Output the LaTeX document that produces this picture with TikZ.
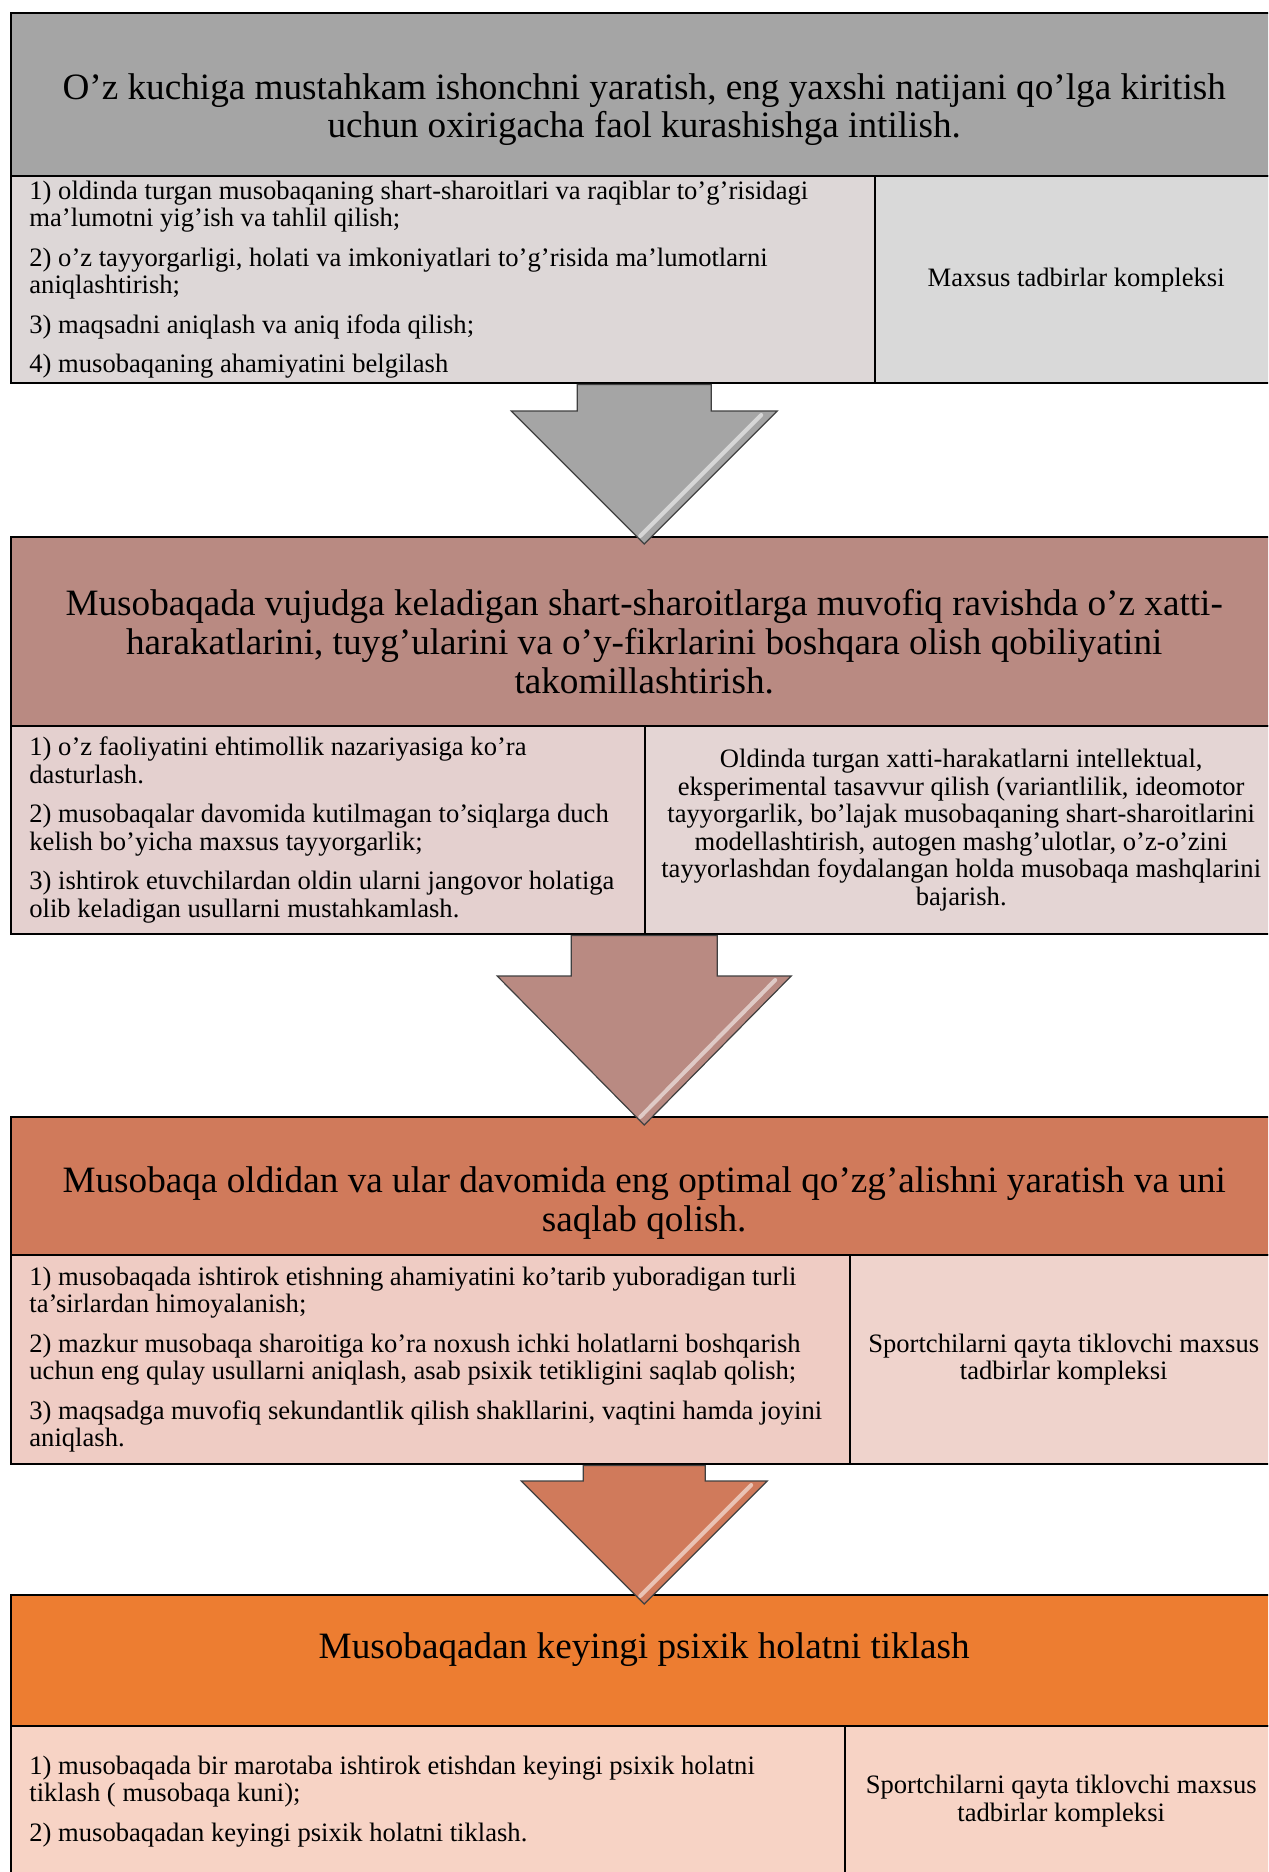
\documentclass[tikz,border=0pt]{standalone}
\usepackage{fontspec}
\setmainfont{Liberation Serif}
\usepackage{xcolor}
\usetikzlibrary{calc}

\definecolor{grayhd}{HTML}{A5A5A5}
\definecolor{graylt}{HTML}{DDD7D7}
\definecolor{grayrt}{HTML}{D9D9D9}
\definecolor{rosehd}{HTML}{B98A82}
\definecolor{roselt}{HTML}{E4D0CF}
\definecolor{rosert}{HTML}{E4D5D4}
\definecolor{terrahd}{HTML}{D07A5B}
\definecolor{terralt}{HTML}{EFCCC4}
\definecolor{terrart}{HTML}{EFD3CC}
\definecolor{orangehd}{HTML}{ED7D31}
\definecolor{orangelt}{HTML}{F7D3C5}

\tikzstyle{headbox} = [draw=black, line width=1.2pt, rectangle, anchor=north west,
minimum width=633pt, inner sep=0pt]
\tikzstyle{cellbox} = [draw=black, line width=1.2pt, rectangle, anchor=north west, inner sep=0pt]
\tikzstyle{headtext} = [font=\fontsize{18.6}{19.3}\selectfont, align=center, inner sep=0pt]
\tikzstyle{itemtext} = [font=\fontsize{13.3}{13.75}\selectfont, align=left, anchor=west, inner sep=0pt]
\tikzstyle{sidetext} = [font=\fontsize{13.3}{13.75}\selectfont, align=center, inner sep=0pt]
\tikzstyle{arrowbody} = [draw=black!75, line width=0.6pt, line join=miter]

% block arrow: style, start, tip, shaft half width, head half width, head length
\newcommand{\bigarrow}[6]{%
\draw [arrowbody, #1] ($(#2)+(-#4,0)$) -- ($(#3)+(-#4,-#6)$) -- ($(#3)+(-#5,-#6)$) -- (#3)
    -- ($(#3)+(#5,-#6)$) -- ($(#3)+(#4,-#6)$) -- ($(#2)+(#4,0)$) -- cycle;
\draw [white, opacity=.55, line width=2pt, line cap=round]
    ($(#3)+(#5-16,-#6+4)$) -- ($(#3)+(-4,-8)$);
}

\begin{document}
\begin{tikzpicture}[x=0.5pt, y=-0.5pt]
    \useasboundingbox (0,0) rectangle (1268,1872);
    \clip (0,0) rectangle (1268,1872);
    \fill[white] (0,0) rectangle (1268,1872);

    % first block
    \node[headbox, fill=grayhd, minimum height=81.5pt] (hdrA) at (10,12) {};
    \node[cellbox, fill=graylt, minimum width=432pt, minimum height=103.5pt] (cellAL) at (10,175) {};
    \node[cellbox, fill=grayrt, minimum width=201pt, minimum height=103.5pt] (cellAR) at (874,175) {};
    \node[headtext] (ttlA) at ($(hdrA.center)+(0,15)$)
        {O’z kuchiga mustahkam ishonchni yaratish, eng yaxshi natijani qo’lga kiritish\\
         uchun oxirigacha faol kurashishga intilish.};
    \node[itemtext] (itmA) at ($(cellAL.west)+(19,0)$)
        {1) oldinda turgan musobaqaning shart-sharoitlari va raqiblar to’g’risidagi\\
         ma’lumotni yig’ish va tahlil qilish;\\[6pt]
         2) o’z tayyorgarligi, holati va imkoniyatlari to’g’risida ma’lumotlarni\\
         aniqlashtirish;\\[6pt]
         3) maqsadni aniqlash va aniq ifoda qilish;\\[6pt]
         4) musobaqaning ahamiyatini belgilash};
    \node[sidetext] (sidA) at (cellAR.center) {Maxsus tadbirlar kompleksi};

    % second block
    \node[headbox, fill=rosehd, minimum height=94.5pt] (hdrB) at (10,536) {};
    \node[cellbox, fill=roselt, minimum width=317pt, minimum height=104pt] (cellBL) at (10,725) {};
    \node[cellbox, fill=rosert, minimum width=316pt, minimum height=104pt] (cellBR) at (644,725) {};
    \node[headtext] (ttlB) at ($(hdrB.center)+(0,10)$)
        {Musobaqada vujudga keladigan shart-sharoitlarga muvofiq ravishda o’z xatti-\\
         harakatlarini, tuyg’ularini va o’y-fikrlarini boshqara olish qobiliyatini\\
         takomillashtirish.};
    \node[itemtext] (itmB) at ($(cellBL.west)+(19,0)$)
        {1) o’z faoliyatini ehtimollik nazariyasiga ko’ra\\
         dasturlash.\\[6pt]
         2) musobaqalar davomida kutilmagan to’siqlarga duch\\
         kelish bo’yicha maxsus tayyorgarlik;\\[6pt]
         3) ishtirok etuvchilardan oldin ularni jangovor holatiga\\
         olib keladigan usullarni mustahkamlash.};
    \node[sidetext] (sidB) at (cellBR.center)
        {Oldinda turgan xatti-harakatlarni intellektual,\\
         eksperimental tasavvur qilish (variantlilik, ideomotor\\
         tayyorgarlik, bo’lajak musobaqaning shart-sharoitlarini\\
         modellashtirish, autogen mashg’ulotlar, o’z-o’zini\\
         tayyorlashdan foydalangan holda musobaqa mashqlarini\\
         bajarish.};

    % third block
    \node[headbox, fill=terrahd, minimum height=69pt] (hdrC) at (10,1116) {};
    \node[cellbox, fill=terralt, minimum width=419.5pt, minimum height=104.5pt] (cellCL) at (10,1254) {};
    \node[cellbox, fill=terrart, minimum width=213.5pt, minimum height=104.5pt] (cellCR) at (849,1254) {};
    \node[headtext] (ttlC) at ($(hdrC.center)+(0,17)$)
        {Musobaqa oldidan va ular davomida eng optimal qo’zg’alishni yaratish va uni\\
         saqlab qolish.};
    \node[itemtext] (itmC) at ($(cellCL.west)+(19,0)$)
        {1) musobaqada ishtirok etishning ahamiyatini ko’tarib yuboradigan turli\\
         ta’sirlardan himoyalanish;\\[6pt]
         2) mazkur musobaqa sharoitiga ko’ra noxush ichki holatlarni boshqarish\\
         uchun eng qulay usullarni aniqlash, asab psixik tetikligini saqlab qolish;\\[6pt]
         3) maqsadga muvofiq sekundantlik qilish shakllarini, vaqtini hamda joyini\\
         aniqlash.};
    \node[sidetext] (sidC) at (cellCR.center)
        {Sportchilarni qayta tiklovchi maxsus\\ tadbirlar kompleksi};

    % fourth block
    \node[headbox, fill=orangehd, minimum height=65.5pt] (hdrD) at (10,1594) {};
    \node[cellbox, fill=orangelt, minimum width=417pt, minimum height=75pt] (cellDL) at (10,1725) {};
    \node[cellbox, fill=orangelt, minimum width=216pt, minimum height=75pt] (cellDR) at (844,1725) {};
    \node[headtext] (ttlD) at ($(hdrD.center)+(0,-11)$)
        {Musobaqadan keyingi psixik holatni tiklash};
    \node[itemtext] (itmD) at ($(cellDL.west)+(19,0)$)
        {1) musobaqada bir marotaba ishtirok etishdan keyingi psixik holatni\\
         tiklash ( musobaqa kuni);\\[6pt]
         2) musobaqadan keyingi psixik holatni tiklash.};
    \node[sidetext] (sidD) at (cellDR.center)
        {Sportchilarni qayta tiklovchi maxsus\\ tadbirlar kompleksi};

    % arrows between blocks
    \coordinate (outA) at (hdrB.north |- cellAL.south);
    \coordinate (tipA) at ($(hdrB.north)+(0,8)$);
    \coordinate (outB) at (hdrC.north |- cellBL.south);
    \coordinate (tipB) at ($(hdrC.north)+(0,9)$);
    \coordinate (outC) at (hdrD.north |- cellCL.south);
    \coordinate (tipC) at ($(hdrD.north)+(0,10)$);
    \bigarrow{fill=grayhd}{outA}{tipA}{67}{133}{133}
    \bigarrow{fill=rosehd}{outB}{tipB}{73}{147}{149}
    \bigarrow{fill=terrahd}{outC}{tipC}{61}{123}{123}
\end{tikzpicture}
\end{document}
